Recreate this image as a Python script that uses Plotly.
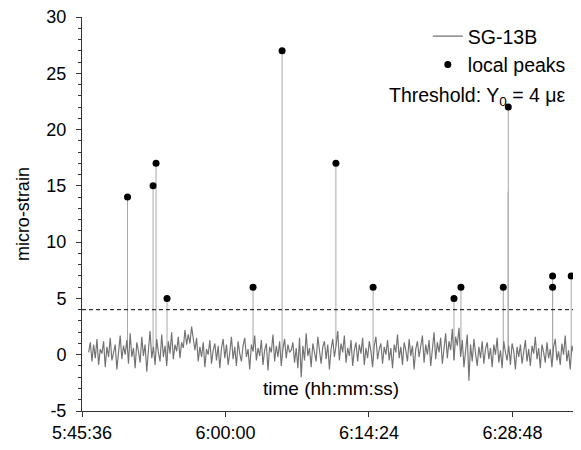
import numpy as np
import pandas as pd
import plotly.graph_objects as go

# ---------------- data ----------------
DAY = "2020-01-01 "
T0 = pd.Timestamp(DAY + "05:45:36")
X_END = "06:35:41"
NOISE_START_S = 40
NOISE_STEP_S = 10

noise_values = [
    0.2, 1.1, -0.6, 0.9, -0.3, 1.4, -0.9, 0.5, 0.1, 1.2, -1.1, 0.7, -0.2, 1.5, -0.5, 0.3, 0.9, -1.3, 0.6, 1.7,
    -0.4, 0.8, 0.0, 1.3, -0.8, 1.9, -0.2, 0.6, -1.2, 1.1, 0.3, -0.7, 1.6, -0.1, 0.9, -1.5, 0.4, 2.1, -0.3, 0.7,
    -0.9, 1.4, 0.2, -0.6, 1.8, -0.2, 0.8, -1.0, 1.2, 0.1, 2.0, -0.4, 0.9, 0.3, 1.6, -0.3, 1.1, 0.6, 2.2, 0.9,
    1.8, 1.0, 2.5, 1.2, 0.4, 1.5, -0.6, 0.7, -0.2, 1.1, -1.1, 0.5, 0.0, 1.3, -0.8, 0.4, 1.0, -0.5, 0.8, -1.2,
    0.6, 1.4, -0.3, 0.9, -0.9, 0.2, 1.6, -0.4, 0.7, -1.0, 1.2, 0.1, -0.6, 0.8, 1.5, -0.2, 0.5, -1.3, 0.9, 0.3,
    1.7, -0.5, 0.6, -0.1, 1.3, -0.9, 0.4, 1.0, -1.4, 0.7, 0.2, 1.8, -0.6, 0.8, -0.2, 1.2, -1.0, 0.5, 1.4, -0.3,
    0.9, 0.2, 0.4, 1.1, -0.7, 0.6, -1.2, 1.5, -2.0, 0.8, -0.5, 1.9, -0.1, 0.6, -1.1, 1.0, 0.3, -0.6, 1.6, 0.2,
    -0.8, 0.7, 1.2, -0.4, 0.9, -1.3, 0.5, 1.4, -0.2, 0.8, 2.1, -0.5, 1.0, 0.2, 1.7, -0.7, 0.6, -0.1, 1.3, -1.0,
    0.4, 1.1, -0.6, 0.9, 0.1, 1.5, -0.9, 0.6, -0.3, 1.2, 0.3, -1.1, 0.8, 1.6, -0.4, 0.5, 1.0, -0.8, 0.7, 0.0,
    1.3, -0.5, 0.6, -1.2, 0.9, 0.2, 1.8, -0.3, 0.7, -0.9, 1.1, 0.4, -0.6, 1.4, -0.1, 0.8, -1.3, 0.5, 1.2, -0.2,
    0.6, 1.7, -0.7, 0.9, 0.0, 1.3, -1.0, 0.5, 2.0, -0.4, 1.1, 0.2, 1.5, -0.8, 0.7, 1.9, -0.3, 1.2, 0.4, 2.3,
    -0.5, 1.6, 0.8, 2.4, -0.2, 1.3, -1.1, 0.6, 1.8, -2.3, 0.9, -0.6, 1.4, 0.1, -1.0, 0.7, -0.3, 1.2, -0.8, 0.5,
    1.1, -0.4, 0.6, -1.1, 0.9, 0.0, 1.5, -0.7, 0.4, -1.2, 1.2, 0.2, -0.5, 0.8, -0.9, 1.0, 0.3, -1.3, 0.7, -0.2,
    0.9, -0.8, 0.4, 1.3, -0.6, 0.5, -1.0, 0.8, 0.1, 1.6, -0.4, 0.6, -1.2, 0.9, 0.2, -0.7, 1.1, -0.3, 0.5, -1.1,
    0.7, 1.4, -0.5, 0.3, -0.9, 1.0, 0.0, 1.7, -0.6, 0.4, -1.3, 0.8, 0.2, -0.4, 1.2, -0.8, 0.6, 0.1,
]

peak_times = ["05:50:10", "05:52:44", "05:53:02", "05:54:08", "06:02:46", "06:05:41",
              "06:11:05", "06:14:49", "06:22:56", "06:23:38", "06:27:53", "06:28:23",
              "06:32:50", "06:32:50", "06:34:42"]
peak_values = [14, 15, 17, 5, 6, 27, 17, 6, 5, 6, 6, 22, 7, 6, 7]

extra_spike_times = ["06:28:22"]
extra_spike_values = [14.5]

threshold = 4
x_tick_labels = ["5:45:36", "6:00:00", "6:14:24", "6:28:48"]
y_tick_values = [-5, 0, 5, 10, 15, 20, 25, 30]
y_tick_labels = ["-5", "0", "5", "10", "15", "20", "25", "30"]
y_range = [-5, 30]

# ---------------- build signal ----------------
def ts(hms):
    return pd.Timestamp(DAY + hms)

noise_sec = NOISE_START_S + NOISE_STEP_S * np.arange(len(noise_values))
noise_x = [T0 + pd.Timedelta(seconds=float(s)) for s in noise_sec]

# spikes of the same SG-13B signal (single-sample jumps), drawn as vertical strokes
spike_x, spike_y = [], []
for hms, v in zip(peak_times + extra_spike_times, peak_values + extra_spike_values):
    s = (ts(hms) - T0).total_seconds()
    base = float(np.interp(s, noise_sec, noise_values))
    spike_x += [ts(hms), ts(hms), None]
    spike_y += [base, v, None]

FONT = "Liberation Sans, Arial, sans-serif"
SIG_COLOR = "#727272"

fig = go.Figure()
fig.add_trace(go.Scatter(
    x=spike_x, y=spike_y, mode="lines", name="SG-13B",
    line=dict(color="#a8a8a8", width=1), showlegend=False, legendgroup="sg",
))
fig.add_trace(go.Scatter(
    x=noise_x, y=noise_values, mode="lines", name="SG-13B",
    line=dict(color=SIG_COLOR, width=1.15), legendgroup="sg",
))
fig.add_trace(go.Scatter(
    x=[ts(t) for t in peak_times], y=peak_values, mode="markers", name="local peaks",
    marker=dict(color="black", size=7),
))

fig.add_shape(type="line", xref="paper", x0=0, x1=1, yref="y", y0=threshold, y1=threshold,
              line=dict(color="black", width=1, dash="4px,3px"))

fig.add_annotation(text="Threshold: Y<sub>0</sub> = 4 \u03bc\u03b5", xref="paper", yref="paper",
                   x=0.974, y=0.797, xanchor="right", yanchor="middle", showarrow=False,
                   font=dict(family=FONT, size=19.5, color="black"))
fig.add_annotation(text="time (hh:mm:ss)", xref="paper", yref="paper",
                   x=0.499, y=0.058, xanchor="center", yanchor="middle", showarrow=False,
                   font=dict(family=FONT, size=19, color="black"))
fig.add_annotation(text="micro-strain", xref="paper", yref="paper", textangle=-90,
                   x=-0.118, y=0.5, xanchor="center", yanchor="middle", showarrow=False,
                   font=dict(family=FONT, size=18, color="black"))

# the page body adds 8 px around the figure; margins compensate for it
fig.update_layout(
    width=581, height=450,
    margin=dict(l=74, r=8, t=9, b=47),
    plot_bgcolor="white", paper_bgcolor="white",
    font=dict(family=FONT, size=18, color="black"),
    showlegend=True,
    legend=dict(x=0.693, y=1.0, xanchor="left", yanchor="top", bgcolor="rgba(0,0,0,0)",
                font=dict(family=FONT, size=19.5, color="black"), tracegroupgap=0),
    xaxis=dict(
        type="date", automargin=False,
        range=[T0, ts(X_END)],
        tickvals=[ts(l.zfill(8)) for l in x_tick_labels],
        ticktext=x_tick_labels,
        ticks="outside", ticklen=5, tickcolor="#333", tickwidth=1,
        ticklabeloverflow="allow",
        showline=True, linecolor="#333", linewidth=1,
        showgrid=False, zeroline=False,
        tickfont=dict(family=FONT, size=18, color="black"),
    ),
    yaxis=dict(
        range=y_range, automargin=False,
        tickvals=y_tick_values, ticktext=y_tick_labels,
        ticks="outside", ticklen=5, tickcolor="#333", tickwidth=1,
        ticklabelstandoff=6, ticklabeloverflow="allow",
        minor=dict(dtick=1, ticks="outside", ticklen=3, tickcolor="#333"),
        showline=True, linecolor="#333", linewidth=1,
        showgrid=False, zeroline=False,
        tickfont=dict(family=FONT, size=18, color="black"),
    ),
)

fig.write_html("out.html")
